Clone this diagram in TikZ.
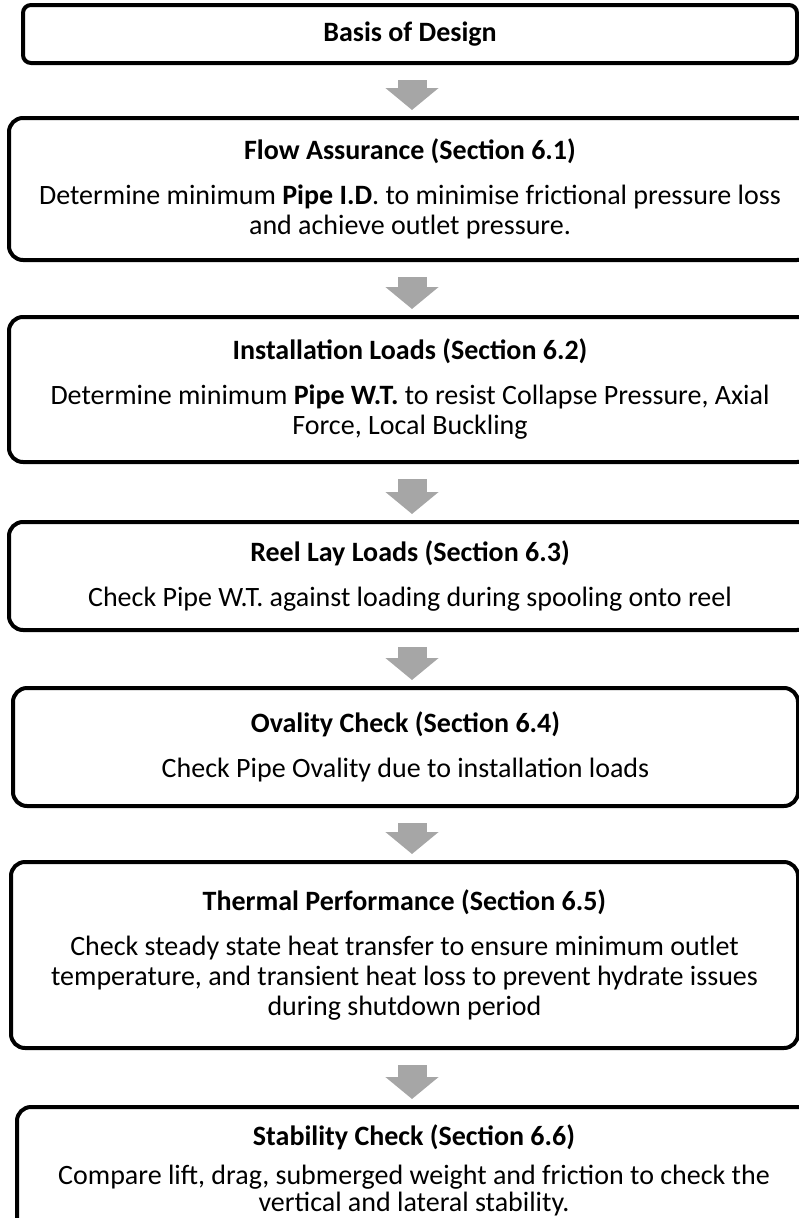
\documentclass[tikz,border=0pt]{standalone}
\usepackage{fontspec}
\setmainfont{Carlito}
\usetikzlibrary{arrows.meta}
\definecolor{arrowgray}{HTML}{A6A6A6}

\begin{document}
\begin{tikzpicture}[x=1pt, y=-1pt, every node/.style={align=center},
    stage/.style={draw, line width=4pt, rounded corners=14pt, inner sep=0pt,
      font=\fontsize{28}{30}\selectfont},
    flowarrow/.style={draw=arrowgray, line width=29pt,
      -{Triangle[width=52pt, length=22pt]}, shorten <=15pt, shorten >=6pt}]
    \useasboundingbox (0,0) rectangle (799,1218);

    \coordinate (col) at (412,0);

    \node[stage, rounded corners=8pt, minimum width=774pt, minimum height=58pt] (basis) at (410,34)
        {\textbf{Basis of Design}};

    \node[stage, minimum width=802pt, minimum height=142pt] (flow) at (410,189)
        {\textbf{Flow Assurance (Section 6.1)}\\[15pt]
         Determine minimum \textbf{Pipe I.D}. to minimise frictional pressure loss\\
         and achieve outlet pressure.};

    \node[stage, minimum width=802pt, minimum height=145pt] (install) at (410,389.5)
        {\textbf{Installation Loads (Section 6.2)}\\[15pt]
         Determine minimum \textbf{Pipe W.T.} to resist Collapse Pressure, Axial\\
         Force, Local Buckling};

    \node[stage, minimum width=802pt, minimum height=108pt] (reel) at (410,576)
        {\textbf{Reel Lay Loads (Section 6.3)}\\[15pt]
         Check Pipe W.T. against loading during spooling onto reel};

    \node[stage, minimum width=785pt, minimum height=118pt] (ovality) at (405.5,747)
        {\textbf{Ovality Check (Section 6.4)}\\[15pt]
         Check Pipe Ovality due to installation loads};

    \node[stage, minimum width=787pt, minimum height=186pt] (thermal) at (404.5,955)
        {\textbf{Thermal Performance (Section 6.5)}\\[15pt]
         Check steady state heat transfer to ensure minimum outlet\\
         temperature, and transient heat loss to prevent hydrate issues\\
         during shutdown period};

    % last box sits tighter and runs off the page
    \node[stage, font=\fontsize{28}{27}\selectfont, minimum width=794pt, minimum height=127pt]
        (stability) at (414,1170.5)
        {\textbf{Stability Check (Section 6.6)}\\[12pt]
         Compare lift, drag, submerged weight and friction to check the\\
         vertical and lateral stability.};

    \draw[flowarrow] (basis.south -| col) -- (flow.north -| col);
    \draw[flowarrow] (flow.south -| col) -- (install.north -| col);
    \draw[flowarrow] (install.south -| col) -- (reel.north -| col);
    \draw[flowarrow] (reel.south -| col) -- (ovality.north -| col);
    \draw[flowarrow] (ovality.south -| col) -- (thermal.north -| col);
    \draw[flowarrow] (thermal.south -| col) -- (stability.north -| col);
\end{tikzpicture}
\end{document}
